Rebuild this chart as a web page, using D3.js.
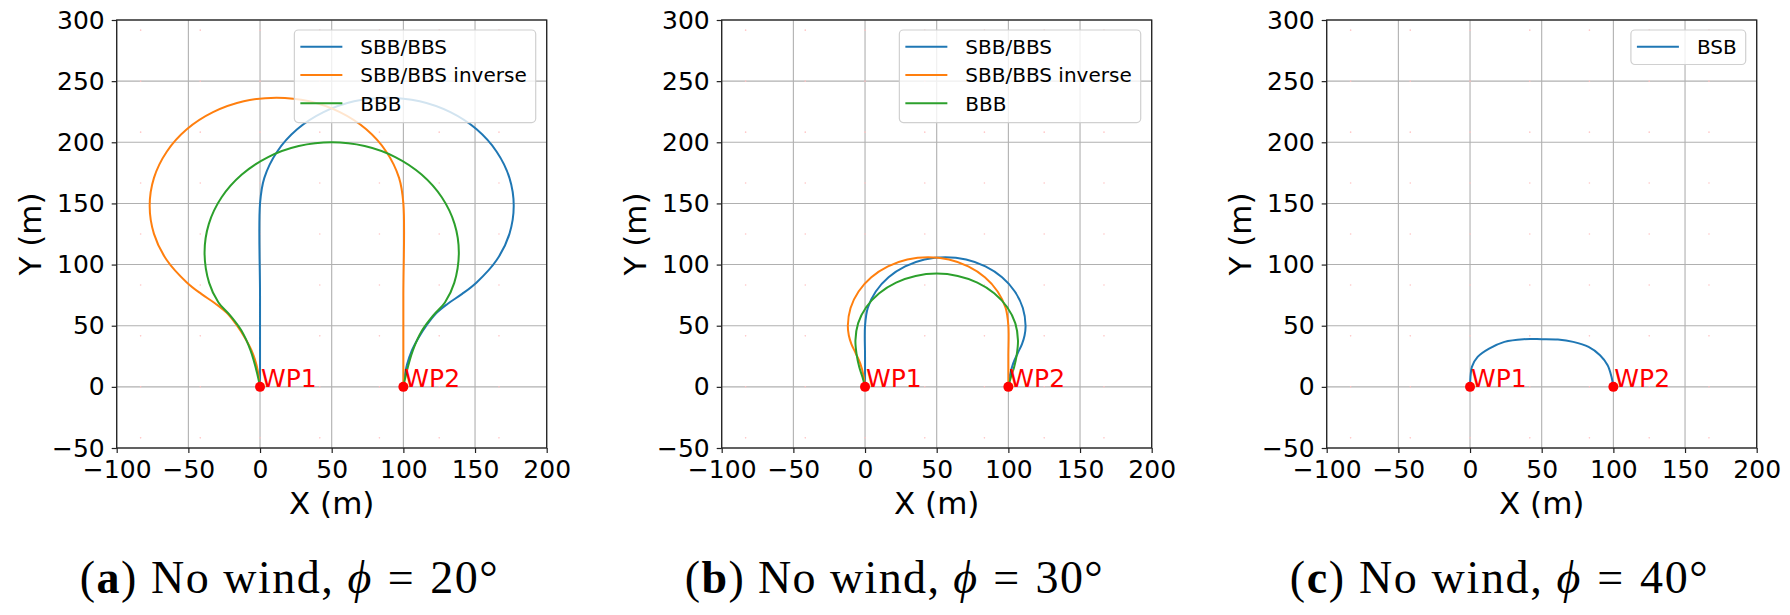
<!DOCTYPE html>
<html>
<head>
<meta charset="utf-8">
<script src="https://cdn.jsdelivr.net/npm/d3@7"></script>
<style>
    body { margin: 0; background: white; }
    svg text { font-family: "DejaVu Sans", sans-serif; }
</style>
</head>
<body>
<svg id="chart" width="1790" height="615"></svg>
<script>
// axis ticks
const xTicks = [-100, -50, 0, 50, 100, 150, 200];
const yTicks = [-50, 0, 50, 100, 150, 200, 250, 300];

// zero-wind field markers (tiny dots)
const windGridX = [-83.3, -41.7, 0, 41.7, 83.3, 125, 166.7];
const windGridY = [291.7, 250, 208.3, 166.7, 125, 83.3, 41.7, 0, -41.7];

const waypoints = [
    {name: "WP1", x: 0, y: 0},
    {name: "WP2", x: 100, y: 0}
];

const captionLetters = ["a", "b", "c"];
const captionAngles = [20, 30, 40];

// (a) phi = 20
const sbbA = [[0, 0], [0, 75], [0, 150], [3.0, 170.9], [11.9, 192.3], [25.9, 210.6], [44.3, 224.6], [65.6, 233.5],
    [88.5, 236.5], [111.4, 233.5], [132.8, 224.6], [151.1, 210.6], [165.1, 192.3], [174.0, 170.9], [177, 148],
    [174.0, 125.1], [165.1, 103.7], [151.1, 85.4], [141, 76], [131, 68], [122.7, 60], [116, 50], [110.5, 40],
    [106, 30], [102.5, 18], [100.8, 8], [100, 0]];
const sbbInvA = [[100, 0], [100, 75], [100, 150], [97, 170.9], [88.1, 192.3], [74.1, 210.6], [55.7, 224.6], [34.4, 233.5],
    [11.5, 236.5], [-11.4, 233.5], [-32.8, 224.6], [-51.1, 210.6], [-65.1, 192.3], [-74, 170.9], [-77, 148],
    [-74, 125.1], [-65.1, 103.7], [-51.1, 85.4], [-41, 76], [-31, 68], [-22.7, 60], [-16, 50], [-10.5, 40],
    [-6, 30], [-2.5, 18], [-0.8, 8], [0, 0]];
const bbbA = [[0, 0], [-2, 11], [-6.7, 30], [-13, 46], [-21, 58.6], [-29, 69], [-35.5, 85], [-38.7, 110],
    [-35.7, 133.3], [-26.8, 155], [-12.7, 173.6], [5.65, 187.9], [27, 196.9], [50, 200], [73, 196.9],
    [94.35, 187.9], [112.7, 173.6], [126.8, 155], [135.7, 133.3], [138.7, 110], [135.5, 85], [129, 69],
    [121, 58.6], [113, 46], [106.7, 30], [102, 11], [100, 0]];

// (b) phi = 30
const sbbB = [[0, 0], [0, 25], [0, 50], [1.9, 64.5], [7.5, 78], [16.4, 89.6], [28, 98.5], [41.5, 104.1], [56, 106],
    [70.5, 104.1], [84, 98.5], [95.6, 89.6], [104.5, 78], [110.1, 64.5], [112, 50], [111.3, 42], [109.5, 35],
    [106.5, 27.5], [103.3, 19], [101, 9], [100, 0]];
const sbbInvB = [[100, 0], [100, 25], [100, 50], [98.1, 64.5], [92.5, 78], [83.6, 89.6], [72, 98.5], [58.5, 104.1], [44, 106],
    [29.5, 104.1], [16, 98.5], [4.4, 89.6], [-4.5, 78], [-10.1, 64.5], [-12, 50], [-11.3, 42], [-9.5, 35],
    [-6.5, 27.5], [-3.3, 19], [-1, 9], [0, 0]];
const bbbB = [[0, 0], [-1.8, 8], [-4, 16], [-5.8, 26], [-6.7, 38], [-4.8, 52.1], [0.9, 65.3], [9.9, 76.6],
    [21.65, 85.3], [35.3, 90.7], [50, 92.6], [64.7, 90.7], [78.35, 85.3], [90.1, 76.6], [99.1, 65.3],
    [104.8, 52.1], [106.7, 38], [105.8, 26], [104, 16], [101.8, 8], [100, 0]];

// (c) phi = 40
const bsbC = [[0, 0], [0.3, 8], [1.3, 16.4], [5.3, 24.5], [13.3, 31.3], [24, 36.8], [37.3, 39], [50, 39],
    [61.3, 38.7], [72, 36.8], [82.7, 32.7], [90.7, 25.9], [96, 17.7], [98.7, 8.2], [100, 0]];

const BLUE = "#1f77b4";
const ORANGE = "#ff7f0e";
const GREEN = "#2ca02c";

const panels = [
    {left: 116.7, series: [
        {label: "SBB/BBS", color: BLUE, data: sbbA},
        {label: "SBB/BBS inverse", color: ORANGE, data: sbbInvA},
        {label: "BBB", color: GREEN, data: bbbA}]},
    {left: 721.7, series: [
        {label: "SBB/BBS", color: BLUE, data: sbbB},
        {label: "SBB/BBS inverse", color: ORANGE, data: sbbInvB},
        {label: "BBB", color: GREEN, data: bbbB}]},
    {left: 1326.7, series: [
        {label: "BSB", color: BLUE, data: bsbC}]}
];

const plotWidth = 430;
const plotHeight = 428;
const plotTop = 20;

let svg = d3.select("#chart");

panels.forEach((p, i) => {
    let x = d3.scaleLinear().domain([-100, 200]).range([0, plotWidth]);
    let y = d3.scaleLinear().domain([-50, 300]).range([plotHeight, 0]);

    let g = svg.append("g")
        .attr("transform", `translate(${p.left},${plotTop})`);

    // grid
    g.append("g")
        .selectAll("line.vgrid")
        .data(xTicks)
        .join("line")
        .attr("x1", d => x(d)).attr("x2", d => x(d))
        .attr("y1", 0).attr("y2", plotHeight)
        .attr("stroke", "#b0b0b0")
        .attr("stroke-width", 1.1);
    g.append("g")
        .selectAll("line.hgrid")
        .data(yTicks)
        .join("line")
        .attr("y1", d => y(d)).attr("y2", d => y(d))
        .attr("x1", 0).attr("x2", plotWidth)
        .attr("stroke", "#b0b0b0")
        .attr("stroke-width", 1.1);

    // wind field (zero wind -> only dots)
    let windPts = d3.cross(windGridX, windGridY);
    g.append("g")
        .selectAll("circle")
        .data(windPts)
        .join("circle")
        .attr("cx", d => x(d[0]))
        .attr("cy", d => y(d[1]))
        .attr("r", 0.8)
        .attr("fill", "#ffc4c4");

    let line = d3.line()
        .x(d => x(d[0]))
        .y(d => y(d[1]))
        .curve(d3.curveCatmullRom.alpha(0.5));

    p.series.forEach(s => {
        g.append("path")
            .datum(s.data)
            .attr("d", line)
            .attr("fill", "none")
            .attr("stroke", s.color)
            .attr("stroke-width", 2);
    });

    // waypoints
    g.selectAll("circle.wp")
        .data(waypoints)
        .join("circle")
        .attr("class", "wp")
        .attr("cx", d => x(d.x))
        .attr("cy", d => y(d.y))
        .attr("r", 5)
        .attr("fill", "red");
    g.selectAll("text.wp")
        .data(waypoints)
        .join("text")
        .attr("class", "wp")
        .attr("x", d => x(d.x) + 1)
        .attr("y", d => y(d.y))
        .attr("fill", "red")
        .attr("font-size", "25px")
        .text(d => d.name);

    // axes
    let axisB = g.append("g")
        .attr("transform", `translate(0,${plotHeight})`)
        .call(d3.axisBottom(x).tickValues(xTicks).tickSize(5).tickPadding(7).tickSizeOuter(0));
    let axisL = g.append("g")
        .call(d3.axisLeft(y).tickValues(yTicks).tickSize(5).tickPadding(7).tickSizeOuter(0));
    [axisB, axisL].forEach(a => {
        a.select(".domain").remove();
        a.selectAll("line").attr("stroke", "#222").attr("stroke-width", 1.2);
        a.selectAll("text").attr("font-size", "25px").attr("fill", "black")
            .attr("font-family", "DejaVu Sans");
    });

    // spines
    g.append("rect")
        .attr("width", plotWidth)
        .attr("height", plotHeight)
        .attr("fill", "none")
        .attr("stroke", "#222")
        .attr("stroke-width", 1.3);

    // legend
    let legend = g.append("g");
    let box = legend.append("rect")
        .attr("rx", 4)
        .attr("fill", "white")
        .attr("fill-opacity", 0.8)
        .attr("stroke", "#d0d0d0")
        .attr("stroke-width", 1.2);
    let maxW = 0;
    p.series.forEach((s, k) => {
        let cy = 26.7 + k * 28.3;
        legend.append("line")
            .attr("x1", 6).attr("x2", 48)
            .attr("y1", cy).attr("y2", cy)
            .attr("stroke", s.color)
            .attr("stroke-width", 2);
        let t = legend.append("text")
            .attr("x", 66)
            .attr("y", cy)
            .attr("dy", "0.36em")
            .attr("font-size", "20px")
            .text(s.label);
        maxW = Math.max(maxW, t.node().getComputedTextLength());
    });
    let legW = 66 + maxW + 9;
    box.attr("x", 0).attr("y", 10)
        .attr("width", legW)
        .attr("height", 34.5 + (p.series.length - 1) * 28.3 + (p.series.length > 1 ? 1.5 : 0));
    legend.attr("transform", `translate(${plotWidth - 11 - legW},0)`);

    // axis labels
    g.append("text")
        .attr("x", plotWidth / 2)
        .attr("y", 494)
        .attr("text-anchor", "middle")
        .attr("font-size", "31px")
        .text("X (m)");
    g.append("text")
        .attr("transform", `translate(-76,${plotHeight / 2}) rotate(-90)`)
        .attr("text-anchor", "middle")
        .attr("font-size", "31px")
        .text("Y (m)");

    // caption
    let cap = svg.append("text")
        .attr("x", p.left + plotWidth / 2 - 43)
        .attr("y", 593)
        .attr("text-anchor", "middle")
        .style("font-family", "'Liberation Serif', 'DejaVu Serif', serif")
        .attr("font-size", "46px");
    cap.append("tspan").text("(");
    cap.append("tspan").attr("font-weight", "bold").text(captionLetters[i]);
    cap.append("tspan").text(") No wind, ");
    cap.append("tspan").attr("font-style", "italic").text("\u03d5");
    cap.append("tspan").attr("dx", 2).text(" =");
    cap.append("tspan").attr("dx", 2).text(" " + captionAngles[i] + "\u00b0");
    cap.attr("textLength", 418).attr("lengthAdjust", "spacing");
});
</script>
</body>
</html>
